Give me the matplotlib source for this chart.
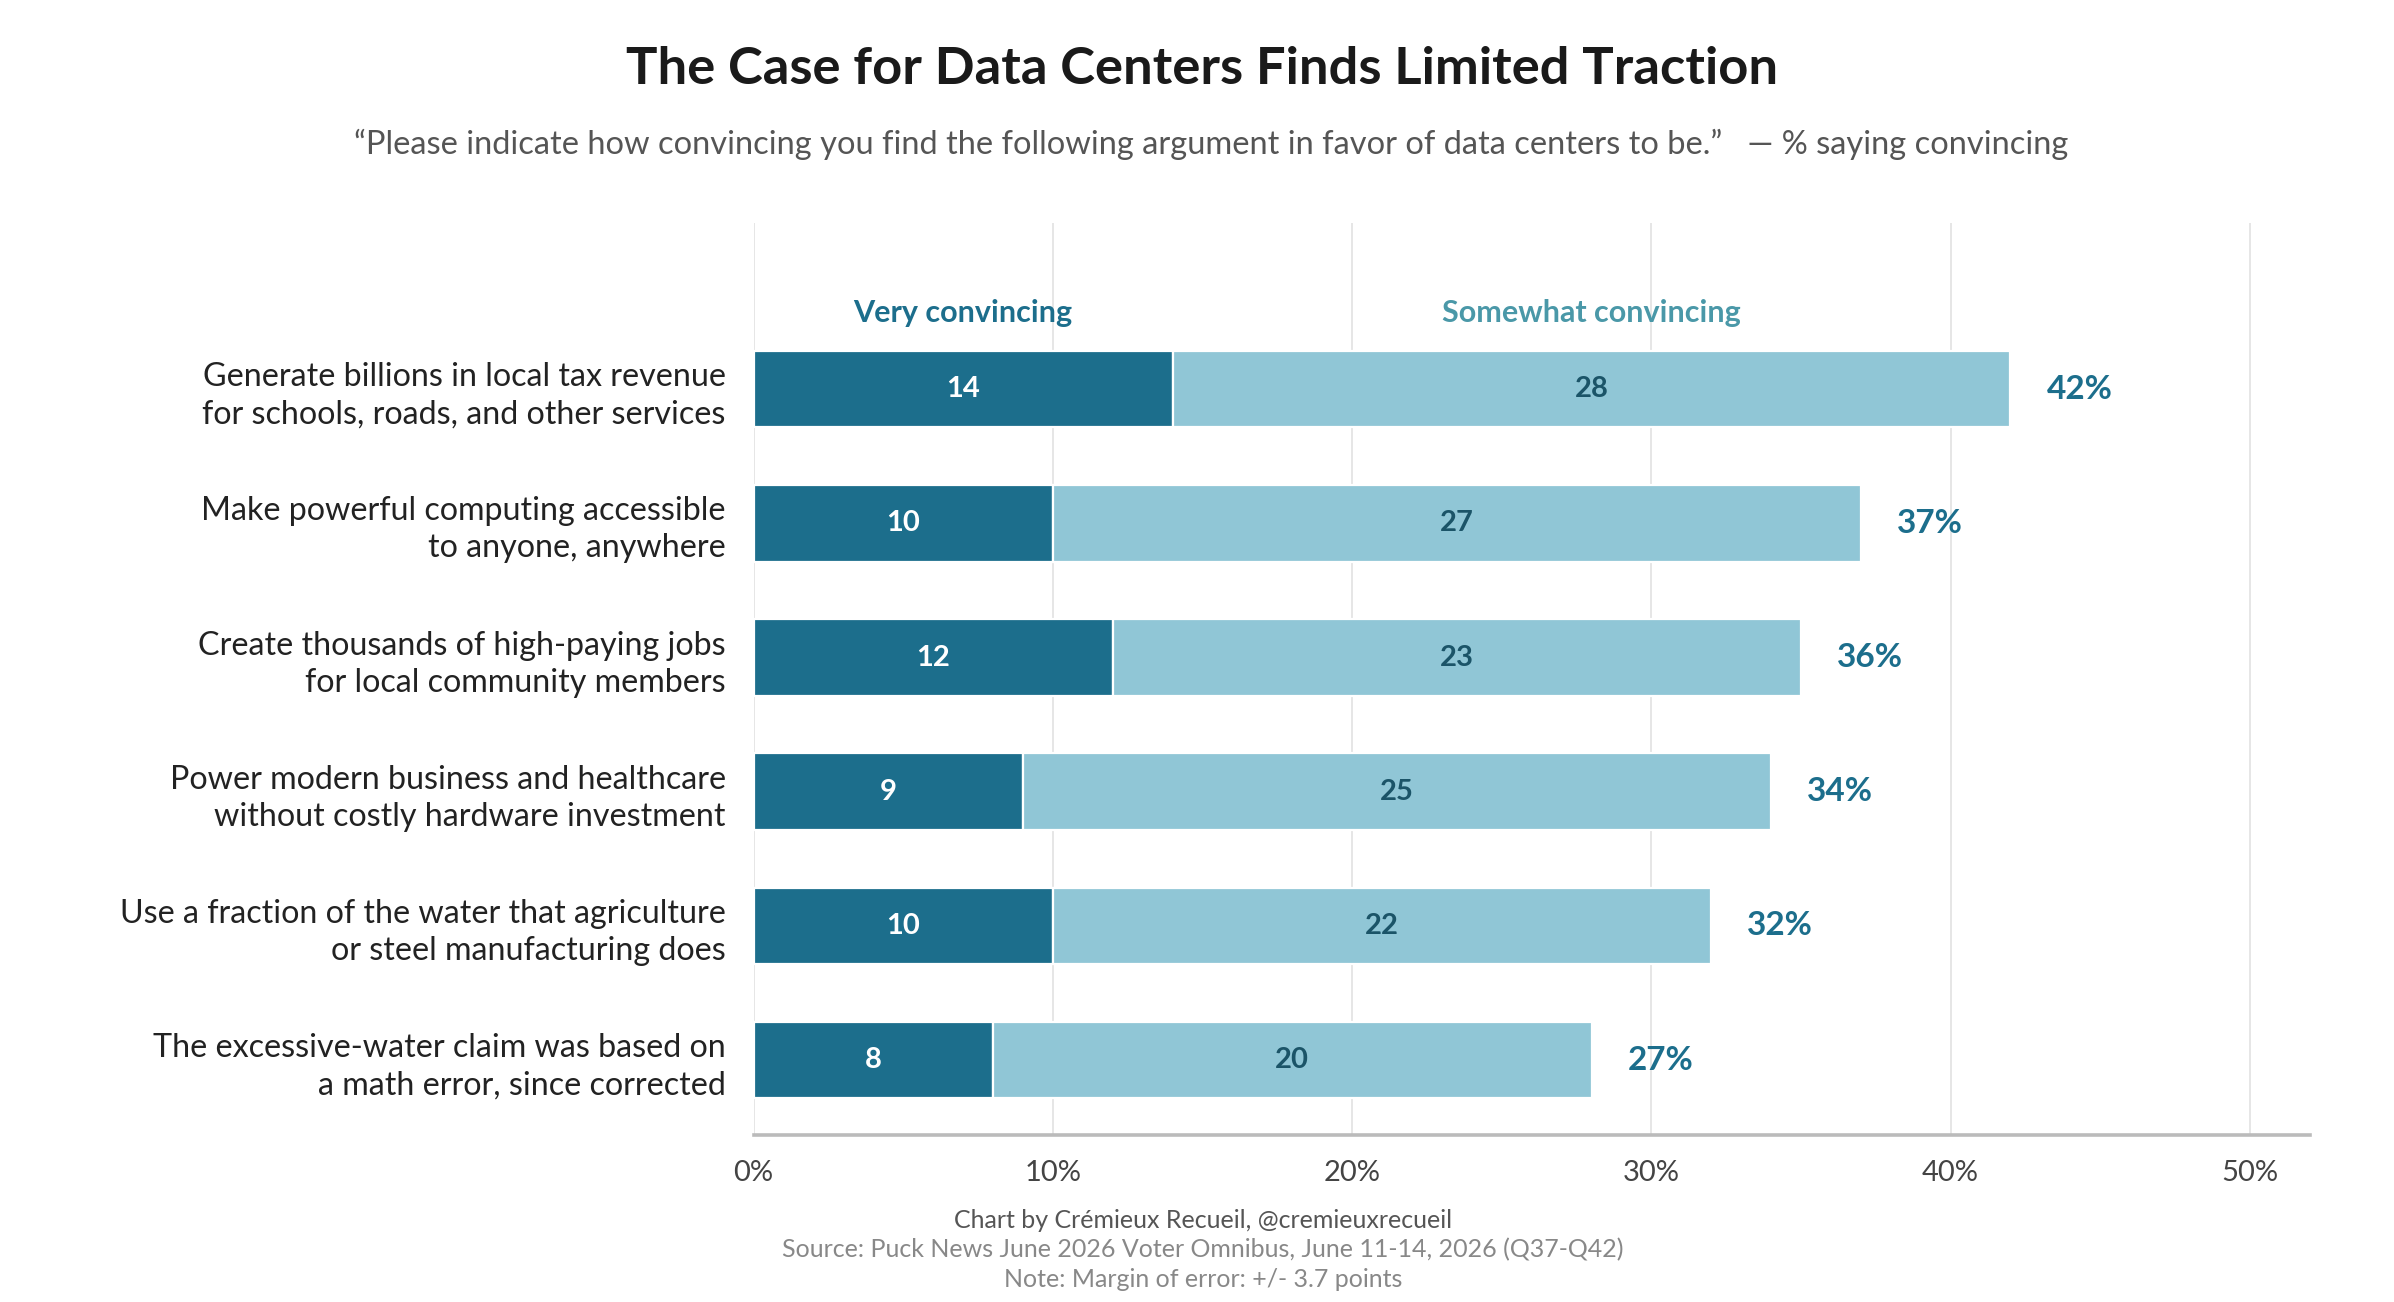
import matplotlib.pyplot as plt

plt.rcParams['font.family'] = ['Lato', 'DejaVu Sans']

categories = [
    'Generate billions in local tax revenue\nfor schools, roads, and other services',
    'Make powerful computing accessible\nto anyone, anywhere',
    'Create thousands of high-paying jobs\nfor local community members',
    'Power modern business and healthcare\nwithout costly hardware investment',
    'Use a fraction of the water that agriculture\nor steel manufacturing does',
    'The excessive-water claim was based on\na math error, since corrected',
]
very = [14, 10, 12, 9, 10, 8]
somewhat = [28, 27, 23, 25, 22, 20]
totals = [42, 37, 36, 34, 32, 27]
xticks = [0, 10, 20, 30, 40, 50]

DARK = '#1c6e8c'
LIGHT = '#90c6d6'

fig = plt.figure(figsize=(11.97, 6.51), dpi=200)
ax = fig.add_axes([0.3148, 0.128, 0.650, 0.701])

y = list(range(len(categories)))
ax.barh(y, very, height=0.57, color=DARK, edgecolor='white', linewidth=0.8, zorder=3)
ax.barh(y, somewhat, left=very, height=0.57, color=LIGHT, edgecolor='white',
        linewidth=0.8, zorder=3)

for i in y:
    end = very[i] + somewhat[i]
    ax.text(very[i] / 2, i, str(very[i]), ha='center', va='center',
            color='white', fontsize=10.5, fontweight='bold', zorder=4)
    ax.text(very[i] + somewhat[i] / 2, i, str(somewhat[i]), ha='center', va='center',
            color='#1b5468', fontsize=10.5, fontweight='bold', zorder=4)
    ax.text(end + 1.2, i, f'{totals[i]}%', ha='left', va='center',
            color=DARK, fontsize=12, fontweight='bold', zorder=4)

# series labels above the first bar
ax.text(very[0] / 2, -0.57, 'Very convincing', ha='center', va='center',
        color=DARK, fontsize=11, fontweight='bold')
ax.text(very[0] + somewhat[0] / 2, -0.57, 'Somewhat convincing', ha='center',
        va='center', color='#4a98a8', fontsize=11, fontweight='bold')

ax.set_xlim(0, 52)
ax.set_ylim(5.56, -1.24)
ax.set_yticks(y)
ax.set_yticklabels(categories, fontsize=11.6, color='#222222', linespacing=1.3)
ax.set_xticks(xticks)
ax.set_xticklabels([f'{t}%' for t in xticks], fontsize=10.5, color='#444444')
ax.tick_params(axis='both', length=0)
ax.tick_params(axis='y', pad=10)
ax.tick_params(axis='x', pad=9)

for t in xticks:
    ax.axvline(t, color='#e6e6e6', linewidth=0.7, zorder=1)

for s in ['top', 'right', 'left']:
    ax.spines[s].set_visible(False)
ax.spines['bottom'].set_color('#bbbbbb')
ax.spines['bottom'].set_linewidth(1.3)

fig.text(0.502, 0.947, 'The Case for Data Centers Finds Limited Traction',
         ha='center', va='center', fontsize=18.9, fontweight='bold', color='#1a1a1a')
fig.text(0.506, 0.889,
         '\u201cPlease indicate how convincing you find the following argument in favor '
         'of data centers to be.\u201d   \u2014 % saying convincing',
         ha='center', va='center', fontsize=11.75, color='#555555')

fig.text(0.5025, 0.0625, 'Chart by Cr\u00e9mieux Recueil, @cremieuxrecueil',
         ha='center', va='center', fontsize=9, color='#555555')
fig.text(0.5025, 0.040, 'Source: Puck News June 2026 Voter Omnibus, June 11-14, 2026 (Q37-Q42)',
         ha='center', va='center', fontsize=9, color='#888888')
fig.text(0.5025, 0.0175, 'Note: Margin of error: +/- 3.7 points',
         ha='center', va='center', fontsize=9, color='#888888')

fig.savefig('out.png', dpi=200, facecolor='white')
